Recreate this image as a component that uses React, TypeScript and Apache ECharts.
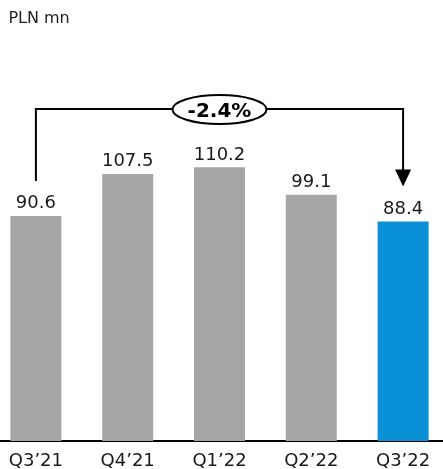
import React, { useEffect, useRef } from "react";
import * as echarts from "echarts";

// Quarterly values (PLN mn)
const categories = ["Q3’21", "Q4’21", "Q1’22", "Q2’22", "Q3’22"];
const values = [90.6, 107.5, 110.2, 99.1, 88.4];
const unitLabel = "PLN mn";
const changeLabel = "-2.4%";

const GRAY = "#a6a6a6";
const BLUE = "#0a90d6";
const FONT = "DejaVu Sans, Verdana, sans-serif";

// The plot area is a little wider than the page, so the chart canvas is shifted left
const SHIFT_X = 10.4;
const CANVAS_W = 458.75;

export default function App() {
  const ref = useRef<HTMLDivElement>(null);

  useEffect(() => {
    if (!ref.current) return;
    const chart = echarts.init(ref.current, null, { renderer: "svg" });
    chart.setOption({
      animation: false,
      grid: { left: 0, right: 0, top: 118.1, bottom: 28 },
      xAxis: {
        type: "category",
        data: categories,
        axisLine: { lineStyle: { color: "#000", width: 2 } },
        axisTick: { show: false },
        axisLabel: { color: "#1a1a1a", fontSize: 18, fontFamily: FONT, margin: 9 },
      },
      yAxis: {
        type: "value",
        min: 0,
        max: 130,
        show: false,
        splitLine: { show: false },
      },
      series: [
        {
          type: "bar",
          barWidth: 51,
          data: values.map((v, i) => ({
            value: v,
            itemStyle: { color: i === values.length - 1 ? BLUE : GRAY },
          })),
          label: {
            show: true,
            position: "top",
            distance: 5,
            color: "#1a1a1a",
            fontSize: 18,
            fontFamily: FONT,
            formatter: (p: any) => Number(p.value).toFixed(1),
          },
        },
      ],
    });

    // Bracket from the first to the last quarter, with the change badge
    const last = values.length - 1;
    const p0 = chart.convertToPixel({ seriesIndex: 0 }, [0, values[0]]) as number[];
    const p1 = chart.convertToPixel({ seriesIndex: 0 }, [last, values[last]]) as number[];
    const gap = 35;
    const topY = 109;
    const arrowH = 17;
    const arrowHalf = 8;
    const midX = (p0[0] + p1[0]) / 2;
    const stroke = { stroke: "#000", lineWidth: 2, fill: "none" };

    chart.setOption({
      graphic: [
        {
          type: "text",
          left: 8 + SHIFT_X,
          top: 9,
          style: { text: unitLabel, fontSize: 16, fontFamily: FONT, fill: "#222" },
        },
        {
          type: "polyline",
          shape: {
            points: [
              [p0[0], p0[1] - gap],
              [p0[0], topY],
              [p1[0], topY],
              [p1[0], p1[1] - gap - arrowH + 1],
            ],
          },
          style: stroke,
        },
        {
          type: "polygon",
          shape: {
            points: [
              [p1[0] - arrowHalf, p1[1] - gap - arrowH],
              [p1[0] + arrowHalf, p1[1] - gap - arrowH],
              [p1[0], p1[1] - gap],
            ],
          },
          style: { fill: "#000" },
        },
        {
          type: "ellipse",
          shape: { cx: midX, cy: topY + 0.5, rx: 47, ry: 14.5 },
          style: { fill: "#fff", stroke: "#000", lineWidth: 2 },
        },
        {
          type: "text",
          x: midX,
          y: topY + 1,
          style: {
            text: changeLabel,
            fontSize: 20,
            fontWeight: "bold",
            fontFamily: FONT,
            fill: "#000",
            align: "center",
            verticalAlign: "middle",
          },
        },
      ],
    });

    return () => chart.dispose();
  }, []);

  return (
    <div style={{ position: "fixed", left: 0, top: 0, width: 443, height: 469, overflow: "hidden" }}>
      <div
        ref={ref}
        style={{ position: "absolute", left: -SHIFT_X, top: 0, width: CANVAS_W, height: 469 }}
      />
    </div>
  );
}
